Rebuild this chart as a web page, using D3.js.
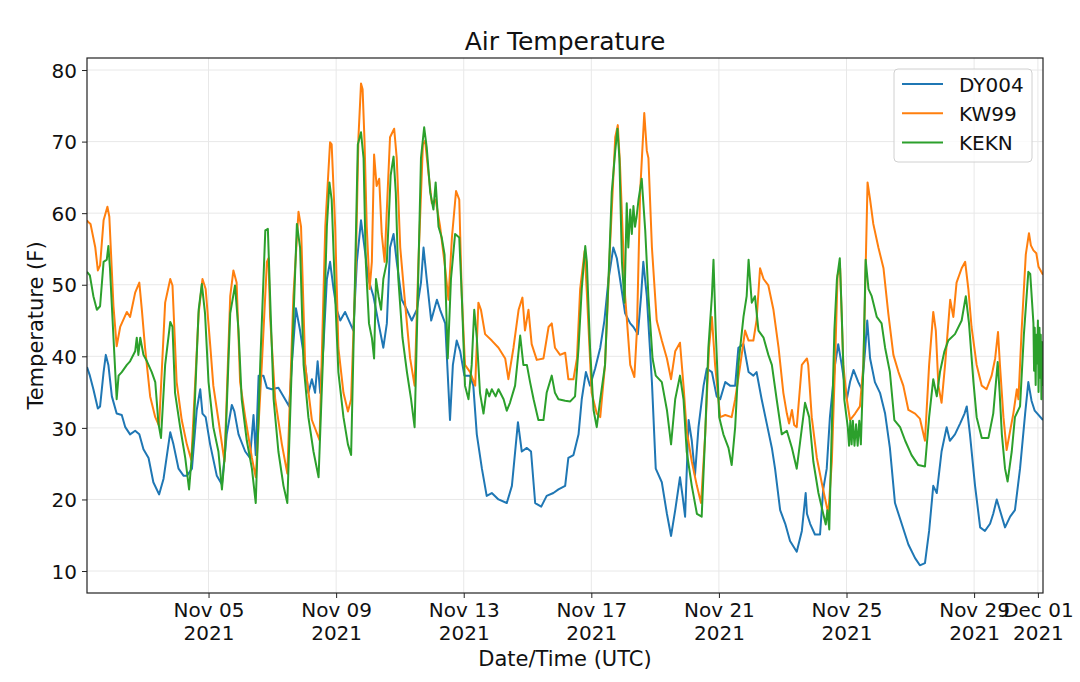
<!DOCTYPE html>
<html>
<head>
<meta charset="utf-8">
<script src="https://d3js.org/d3.v7.min.js"></script>
<style>
body {margin: 0; background: #fff;}
text {font-family: "DejaVu Sans", sans-serif; fill: #111;}
.tick line {stroke: #222;}
.domain {display: none;}
.grid line {stroke: #e8e8e8; stroke-width: 1;}
</style>
</head>
<body>
<svg id="chart" width="1080" height="682"></svg>
<script>
// series names and colours (matplotlib default cycle)
var seriesNames = ["DY004", "KW99", "KEKN"];
var seriesColors = ["#1f77b4", "#ff7f0e", "#2ca02c"];

// [day of Nov 2021 (UTC, fractional), temperature F]
var dy004 = [[1.19,38.5],[1.28,37.3],[1.39,35.4],[1.53,32.7],[1.60,33.0],[1.71,37.8],[1.78,40.2],[1.86,38.8],[1.97,34.4],[2.12,32.0],[2.28,31.8],[2.39,30.1],[2.54,29.1],[2.70,29.6],[2.83,29.1],[2.96,27.0],[3.12,25.8],[3.27,22.4],[3.45,20.7],[3.59,22.9],[3.80,29.4],[3.90,27.7],[4.06,24.3],[4.22,23.3],[4.32,23.3],[4.48,24.3],[4.63,32.5],[4.74,35.4],[4.81,32.0],[4.91,31.5],[5.05,27.7],[5.26,23.3],[5.42,22.1],[5.57,29.1],[5.73,33.2],[5.81,32.3],[5.94,29.1],[6.15,26.7],[6.30,25.8],[6.41,31.8],[6.48,26.2],[6.57,37.3],[6.72,37.3],[6.83,35.6],[6.98,35.4],[7.19,35.6],[7.40,34.0],[7.53,33.0],[7.61,38.8],[7.74,46.7],[7.87,43.6],[8.03,38.8],[8.13,34.9],[8.24,36.8],[8.34,34.9],[8.42,39.3],[8.50,34.9],[8.60,41.2],[8.71,50.8],[8.81,53.2],[8.92,49.4],[9.02,46.5],[9.13,45.0],[9.28,46.2],[9.44,44.6],[9.54,43.6],[9.65,53.2],[9.78,59.0],[9.89,55.2],[10.01,50.8],[10.17,48.4],[10.33,44.6],[10.48,41.2],[10.59,44.6],[10.69,55.2],[10.80,57.1],[10.90,53.2],[11.06,47.9],[11.22,46.5],[11.37,45.0],[11.53,46.5],[11.66,50.3],[11.74,55.2],[11.84,50.8],[11.98,45.0],[12.16,47.9],[12.26,46.5],[12.42,44.6],[12.57,31.1],[12.66,38.8],[12.78,42.2],[12.89,40.7],[13.02,37.3],[13.20,37.3],[13.30,35.9],[13.41,29.1],[13.57,24.3],[13.72,20.5],[13.88,20.9],[14.09,20.0],[14.35,19.5],[14.51,21.9],[14.70,30.8],[14.82,26.7],[14.98,27.2],[15.11,26.7],[15.24,19.5],[15.43,19.0],[15.60,20.5],[15.81,20.9],[15.97,21.4],[16.18,21.9],[16.28,25.8],[16.44,26.2],[16.60,29.1],[16.70,34.0],[16.83,37.8],[16.96,35.9],[17.12,38.3],[17.28,41.2],[17.41,45.0],[17.54,50.8],[17.69,55.2],[17.80,53.7],[17.90,50.8],[18.06,46.0],[18.22,44.6],[18.32,44.1],[18.46,43.1],[18.56,48.4],[18.63,53.2],[18.74,48.4],[18.90,36.4],[19.02,24.3],[19.21,22.4],[19.37,18.0],[19.50,14.9],[19.63,18.5],[19.78,23.1],[19.86,20.5],[19.94,17.6],[20.05,31.1],[20.15,28.2],[20.25,23.4],[20.36,30.1],[20.52,35.9],[20.62,38.3],[20.78,37.8],[20.93,34.4],[21.04,34.0],[21.20,36.4],[21.35,35.9],[21.51,35.9],[21.61,41.2],[21.77,41.7],[21.93,37.8],[22.08,37.3],[22.18,37.8],[22.34,34.0],[22.50,30.6],[22.66,27.2],[22.76,24.3],[22.92,18.5],[23.08,16.6],[23.23,14.2],[23.44,12.7],[23.60,15.6],[23.72,20.9],[23.76,18.0],[23.86,16.6],[24.01,15.1],[24.17,15.1],[24.27,21.4],[24.38,24.3],[24.48,31.5],[24.64,38.8],[24.74,41.7],[24.85,38.8],[25.01,34.0],[25.11,36.4],[25.22,38.1],[25.37,36.4],[25.48,35.4],[25.58,40.7],[25.65,45.0],[25.74,39.7],[25.89,36.4],[26.05,34.9],[26.21,32.0],[26.36,27.2],[26.52,19.5],[26.73,16.6],[26.94,13.7],[27.15,11.8],[27.30,10.8],[27.46,11.1],[27.59,15.6],[27.72,21.9],[27.83,20.9],[27.98,26.7],[28.14,30.1],[28.24,28.2],[28.40,29.1],[28.56,30.6],[28.70,32.0],[28.77,33.0],[28.87,29.1],[29.03,21.9],[29.19,16.1],[29.34,15.6],[29.50,16.6],[29.60,18.0],[29.71,20.0],[29.81,18.5],[29.97,16.1],[30.13,17.6],[30.28,18.5],[30.44,24.3],[30.60,32.0],[30.70,36.4],[30.80,33.8],[30.90,32.4],[31.16,31.1]];

var kw99 = [[1.19,59.0],[1.22,58.8],[1.30,58.5],[1.45,55.2],[1.53,52.0],[1.60,52.7],[1.71,59.0],[1.83,60.9],[1.89,59.5],[2.02,47.0],[2.12,41.4],[2.23,44.1],[2.44,46.2],[2.54,45.5],[2.70,48.9],[2.83,50.3],[2.91,46.5],[3.01,41.2],[3.17,34.4],[3.33,31.5],[3.45,30.3],[3.64,47.5],[3.80,50.8],[3.87,49.9],[4.00,36.4],[4.16,31.1],[4.32,27.7],[4.46,25.5],[4.69,46.0],[4.81,50.8],[4.91,49.4],[5.05,41.7],[5.15,35.9],[5.31,31.1],[5.50,25.3],[5.68,48.4],[5.78,52.0],[5.88,50.3],[5.99,36.4],[6.15,31.5],[6.36,25.8],[6.48,23.1],[6.67,38.8],[6.83,53.2],[6.88,53.7],[6.93,45.5],[7.09,34.0],[7.30,27.7],[7.47,23.6],[7.66,48.4],[7.82,60.2],[7.90,58.1],[8.03,38.8],[8.24,31.1],[8.48,28.3],[8.66,58.1],[8.81,69.9],[8.86,69.6],[8.97,58.1],[9.07,41.2],[9.23,34.9],[9.37,32.3],[9.47,34.0],[9.62,53.2],[9.70,70.6],[9.78,78.1],[9.83,77.3],[9.89,70.1],[9.96,58.1],[10.05,49.4],[10.12,53.2],[10.19,68.2],[10.27,63.8],[10.35,64.8],[10.43,57.1],[10.52,53.2],[10.59,60.5],[10.69,70.6],[10.82,71.8],[10.90,67.7],[11.01,55.2],[11.16,47.5],[11.32,39.7],[11.46,35.9],[11.58,53.2],[11.72,69.6],[11.79,70.1],[11.89,65.8],[12.00,61.4],[12.12,61.9],[12.26,58.1],[12.42,52.3],[12.52,47.9],[12.63,56.6],[12.76,63.1],[12.86,61.9],[12.94,48.4],[13.04,38.8],[13.20,37.8],[13.36,35.9],[13.46,47.5],[13.54,46.5],[13.67,43.1],[13.88,42.2],[14.09,41.2],[14.30,39.7],[14.40,36.8],[14.56,41.2],[14.72,46.5],[14.84,48.2],[14.92,43.6],[15.03,46.5],[15.13,41.7],[15.29,39.5],[15.50,39.7],[15.66,44.1],[15.76,44.6],[15.86,41.2],[16.02,40.2],[16.18,40.5],[16.28,36.8],[16.44,36.8],[16.55,39.7],[16.65,49.4],[16.79,54.7],[16.86,48.9],[17.01,34.9],[17.17,32.0],[17.28,31.5],[17.43,38.8],[17.59,55.7],[17.75,70.6],[17.83,72.3],[17.90,66.7],[18.06,48.4],[18.22,38.8],[18.35,37.1],[18.43,43.6],[18.53,62.9],[18.66,74.0],[18.74,68.7],[18.79,67.7],[18.90,55.2],[19.05,45.0],[19.21,42.2],[19.37,39.7],[19.50,36.8],[19.63,40.7],[19.78,41.9],[19.89,35.9],[19.99,29.6],[20.15,25.3],[20.31,21.9],[20.44,19.5],[20.57,29.1],[20.69,41.2],[20.78,45.5],[20.88,38.8],[21.04,31.5],[21.20,31.8],[21.40,31.5],[21.51,34.0],[21.67,38.8],[21.82,43.6],[21.93,42.2],[22.08,42.2],[22.18,45.0],[22.29,52.3],[22.40,50.8],[22.55,49.9],[22.71,46.5],[22.87,41.2],[23.02,34.9],[23.13,32.0],[23.20,30.6],[23.29,32.5],[23.36,30.4],[23.44,30.1],[23.60,38.8],[23.76,39.7],[23.80,38.8],[23.91,31.5],[24.07,25.8],[24.22,22.4],[24.43,18.0],[24.54,25.3],[24.64,38.8],[24.72,51.3],[24.80,52.3],[24.90,38.8],[25.01,34.0],[25.11,31.1],[25.27,32.0],[25.42,33.0],[25.53,38.8],[25.60,52.3],[25.66,64.3],[25.74,61.9],[25.84,58.5],[26.00,55.2],[26.16,52.3],[26.31,46.0],[26.47,40.2],[26.63,37.8],[26.78,35.9],[26.94,32.5],[27.15,32.0],[27.30,31.3],[27.46,28.2],[27.59,38.8],[27.72,46.2],[27.80,43.6],[27.88,35.9],[27.98,33.5],[28.09,38.8],[28.25,47.9],[28.35,45.5],[28.45,50.3],[28.61,52.3],[28.72,53.2],[28.82,49.4],[28.92,44.1],[29.08,38.8],[29.24,35.9],[29.39,35.4],[29.55,37.3],[29.66,39.7],[29.75,43.4],[29.81,38.8],[29.92,31.5],[30.02,26.9],[30.13,29.6],[30.23,32.0],[30.34,35.4],[30.39,34.0],[30.49,43.6],[30.62,54.2],[30.72,57.2],[30.78,55.5],[30.86,54.8],[30.95,54.4],[31.02,52.5],[31.16,51.4]];

var kekn = [[1.19,51.8],[1.28,51.3],[1.39,48.4],[1.50,46.5],[1.60,47.0],[1.71,53.2],[1.81,53.5],[1.86,55.4],[1.91,52.3],[2.02,42.6],[2.12,34.0],[2.18,37.3],[2.28,37.8],[2.44,38.8],[2.54,39.3],[2.70,40.7],[2.75,42.6],[2.80,40.2],[2.86,42.6],[2.96,40.2],[3.07,39.3],[3.22,37.8],[3.33,36.4],[3.43,30.6],[3.51,28.6],[3.64,38.8],[3.80,44.8],[3.87,44.1],[3.95,34.9],[4.11,30.1],[4.27,25.8],[4.39,21.4],[4.53,29.1],[4.69,46.5],[4.79,50.1],[4.89,46.0],[5.00,36.4],[5.15,30.1],[5.31,26.7],[5.42,21.4],[5.52,26.7],[5.68,46.0],[5.83,49.9],[5.94,43.6],[6.04,34.0],[6.20,28.2],[6.36,24.3],[6.48,19.5],[6.62,38.8],[6.78,57.6],[6.86,57.8],[6.93,48.4],[7.04,34.0],[7.19,26.7],[7.35,21.9],[7.47,19.5],[7.61,38.8],[7.77,58.5],[7.87,55.2],[7.98,38.8],[8.13,31.5],[8.29,26.7],[8.45,23.1],[8.58,38.8],[8.71,58.1],[8.79,64.3],[8.86,61.9],[8.97,48.4],[9.07,37.8],[9.23,31.5],[9.37,27.7],[9.47,26.2],[9.58,48.4],[9.68,69.6],[9.78,71.3],[9.86,67.7],[9.93,53.2],[10.03,44.6],[10.12,42.6],[10.19,39.7],[10.25,50.8],[10.33,48.4],[10.41,46.5],[10.48,50.8],[10.59,53.2],[10.71,65.3],[10.80,67.9],[10.87,62.9],[10.95,50.8],[11.08,42.6],[11.22,37.8],[11.35,34.0],[11.46,30.1],[11.56,48.4],[11.66,67.7],[11.76,72.0],[11.84,69.2],[11.95,62.9],[12.05,60.5],[12.12,64.3],[12.21,58.1],[12.31,56.6],[12.40,54.2],[12.50,39.7],[12.60,50.8],[12.73,57.1],[12.86,56.6],[12.94,48.4],[13.04,35.9],[13.15,34.0],[13.25,38.8],[13.33,46.5],[13.41,42.6],[13.51,34.9],[13.62,32.0],[13.72,35.4],[13.80,34.4],[13.88,35.4],[14.00,34.4],[14.09,35.4],[14.25,34.0],[14.35,32.4],[14.45,33.5],[14.61,35.9],[14.77,42.9],[14.87,38.8],[14.98,38.8],[15.08,36.4],[15.19,34.0],[15.34,31.1],[15.50,31.1],[15.60,34.9],[15.76,37.3],[15.86,34.9],[15.97,34.0],[16.18,33.8],[16.34,33.7],[16.49,34.4],[16.60,41.2],[16.70,49.4],[16.81,55.4],[16.86,53.2],[16.96,41.2],[17.07,32.5],[17.17,30.1],[17.28,34.0],[17.43,38.8],[17.56,53.2],[17.64,62.9],[17.75,68.7],[17.82,71.8],[17.88,67.7],[17.96,53.2],[18.04,47.5],[18.11,61.4],[18.16,55.2],[18.22,60.5],[18.27,57.1],[18.32,61.0],[18.37,58.1],[18.42,59.5],[18.48,61.9],[18.58,64.8],[18.69,57.6],[18.79,48.4],[18.92,39.7],[19.02,37.3],[19.21,36.4],[19.37,32.5],[19.50,27.7],[19.63,34.0],[19.78,37.3],[19.89,34.0],[19.99,26.7],[20.15,21.9],[20.31,18.0],[20.46,17.6],[20.57,29.1],[20.67,41.2],[20.78,48.4],[20.83,53.5],[20.90,43.6],[21.01,31.5],[21.14,29.1],[21.30,27.2],[21.40,24.8],[21.51,30.1],[21.61,38.8],[21.77,45.5],[21.87,48.4],[21.93,53.5],[22.03,47.5],[22.13,48.4],[22.24,43.6],[22.40,42.6],[22.55,40.2],[22.66,38.8],[22.81,34.0],[22.97,29.1],[23.13,29.6],[23.29,27.2],[23.44,24.3],[23.55,28.2],[23.70,33.5],[23.83,31.5],[23.96,25.3],[24.12,20.9],[24.27,18.0],[24.35,16.5],[24.40,18.5],[24.46,15.8],[24.52,26.7],[24.62,43.6],[24.70,50.8],[24.79,53.7],[24.85,46.0],[24.93,34.0],[25.04,30.1],[25.08,27.5],[25.12,31.0],[25.16,27.7],[25.20,31.0],[25.25,27.5],[25.30,30.5],[25.35,27.5],[25.40,31.0],[25.45,27.7],[25.53,38.8],[25.60,53.5],[25.69,49.4],[25.79,48.4],[25.95,45.5],[26.10,44.6],[26.21,41.2],[26.36,37.8],[26.50,31.1],[26.68,30.1],[26.84,28.2],[27.04,26.2],[27.25,24.8],[27.46,24.6],[27.59,31.5],[27.72,36.8],[27.83,34.4],[27.93,37.8],[28.07,40.7],[28.19,42.2],[28.40,43.1],[28.61,45.0],[28.74,48.4],[28.84,44.6],[28.98,36.4],[29.08,31.5],[29.24,28.6],[29.45,28.6],[29.60,32.0],[29.74,39.2],[29.80,35.0],[29.87,29.1],[29.97,24.3],[30.05,22.5],[30.18,26.7],[30.28,31.5],[30.44,33.0],[30.56,43.0],[30.70,51.8],[30.76,51.5],[30.86,44.6],[30.88,38.0],[30.90,44.0],[30.93,36.0],[30.95,43.0],[30.98,39.0],[31.00,45.0],[31.02,35.0],[31.05,44.0],[31.07,37.0],[31.09,43.0],[31.11,34.0],[31.13,42.0],[31.15,36.0],[31.16,40.0]];

var yTicks = [10, 20, 30, 40, 50, 60, 70, 80];
var xTickDays = ["2021-11-05", "2021-11-09", "2021-11-13", "2021-11-17", "2021-11-21", "2021-11-25", "2021-11-29", "2021-12-01"];

var T0 = Date.UTC(2021, 10, 1);
function toDate(d) { return new Date(T0 + (d - 1) * 864e5); }

var allSeries = [dy004, kw99, kekn].map(function(s, i) {
    return {name: seriesNames[i], color: seriesColors[i],
            values: s.map(function(p) { return {t: toDate(p[0]), v: p[1]}; })};
});

// plot box (window.top is read-only, so no plain "top")
var pL = 87, pR = 1043, pT = 58, pB = 593;
var svg = d3.select("#chart");

var allPts = [].concat.apply([], allSeries.map(function(s) { return s.values; }));
var x = d3.scaleUtc().domain(d3.extent(allPts, function(d) { return d.t; })).range([pL, pR]);
var y = d3.scaleLinear().domain([6.93, 81.68]).range([pB, pT]);

// grid
var grid = svg.append("g").attr("class", "grid");
grid.selectAll(".gy").data(yTicks).enter().append("line")
    .attr("x1", pL).attr("x2", pR)
    .attr("y1", function(d) { return y(d); }).attr("y2", function(d) { return y(d); });
grid.selectAll(".gx").data(xTickDays).enter().append("line")
    .attr("y1", pT).attr("y2", pB)
    .attr("x1", function(d) { return x(new Date(d)); }).attr("x2", function(d) { return x(new Date(d)); });

svg.append("clipPath").attr("id", "clip")
  .append("rect").attr("x", pL).attr("y", pT).attr("width", pR - pL).attr("height", pB - pT);

var line = d3.line().x(function(d) { return x(d.t); }).y(function(d) { return y(d.v); });

svg.append("g").attr("clip-path", "url(#clip)")
  .selectAll("path").data(allSeries).enter().append("path")
    .attr("d", function(d) { return line(d.values); })
    .attr("fill", "none")
    .attr("stroke", function(d) { return d.color; })
    .attr("stroke-width", 2)
    .attr("stroke-linejoin", "round");

// axes
var fmtMon = d3.utcFormat("%b %d"), fmtYr = d3.utcFormat("%Y");
var xAxis = svg.append("g").attr("transform", "translate(0," + pB + ")")
    .call(d3.axisBottom(x).tickValues(xTickDays.map(function(d) { return new Date(d); }))
        .tickSize(5).tickPadding(5).tickFormat(""));
xAxis.selectAll(".tick text").each(function(d) {
    var t = d3.select(this).attr("font-size", 20);
    t.append("tspan").attr("x", 0).text(fmtMon(d));
    t.append("tspan").attr("x", 0).attr("dy", "1.15em").text(fmtYr(d));
});

var yAxis = svg.append("g").attr("transform", "translate(" + pL + ",0)")
    .call(d3.axisLeft(y).tickValues(yTicks).tickSize(5).tickPadding(5));
yAxis.selectAll(".tick text").attr("font-size", 20).attr("dy", "0.36em");

svg.selectAll(".tick text").style("font-family", "'DejaVu Sans'").attr("fill", "#111");

// frame
svg.append("rect").attr("x", pL).attr("y", pT).attr("width", pR - pL).attr("height", pB - pT)
    .attr("fill", "none").attr("stroke", "#222").attr("stroke-width", 1.2);

// labels
svg.append("text").attr("x", (pL + pR) / 2).attr("y", 50).attr("text-anchor", "middle")
    .attr("font-size", 25).text("Air Temperature");
svg.append("text").attr("x", (pL + pR) / 2).attr("y", 666).attr("text-anchor", "middle")
    .attr("font-size", 21).text("Date/Time (UTC)");
svg.append("text").attr("transform", "translate(43," + (pT + pB) / 2 + ") rotate(-90)")
    .attr("text-anchor", "middle").attr("font-size", 21).text("Temperature (F)");

// legend
var lg = svg.append("g").attr("transform", "translate(894,69)");
lg.append("rect").attr("width", 138).attr("height", 93).attr("rx", 4)
    .attr("fill", "#fff").attr("fill-opacity", 0.8).attr("stroke", "#d0d0d0");
var items = lg.selectAll(".item").data(allSeries).enter().append("g")
    .attr("transform", function(d, i) { return "translate(0," + (15 + i * 29.3) + ")"; });
items.append("line").attr("x1", 8).attr("x2", 49)
    .attr("stroke", function(d) { return d.color; }).attr("stroke-width", 2);
items.append("text").attr("x", 65).attr("y", 7.5).attr("font-size", 20)
    .text(function(d) { return d.name; });
</script>
</body>
</html>
